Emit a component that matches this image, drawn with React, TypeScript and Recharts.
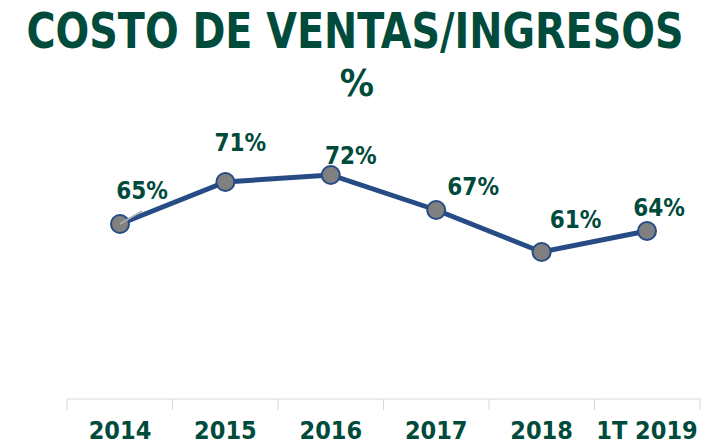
import { LineChart, Line, XAxis, YAxis, LabelList } from "recharts";

const categories = ["2014", "2015", "2016", "2017", "2018", "1T 2019"];
const costRatio = [65, 71, 72, 67, 61, 64];
const boundaryTicks = [0, 1, 2, 3, 4, 5, 6];

// manual label placement, like the original slide
const labelDx = [22, 15, 20, 37, 34, 12];
const labelDy = [-33, -39, -19, -23, -32, -23];

const green = "#004B3B";
const font = "'DejaVu Sans Condensed', 'DejaVu Sans', sans-serif";

const data = categories.map((name, i) => ({ name, value: costRatio[i] }));

function ValueLabel(props: any) {
  const { x, y, index, value } = props;
  const lx = x + labelDx[index];
  const ly = y + labelDy[index];
  return (
    <g>
      {index === 0 && (
        <line x1={x} y1={y} x2={x + 22} y2={y - 13} stroke="#b0b0b0" strokeWidth={1.5} />
      )}
      <text
        x={lx}
        y={ly}
        textAnchor="middle"
        dominantBaseline="central"
        fill={green}
        fontFamily={font}
        fontWeight="bold"
        fontSize={24}
      >
        {value + "%"}
      </text>
    </g>
  );
}

function CatTick(props: any) {
  const { x, y, payload } = props;
  return (
    <text
      x={x}
      y={y + 31}
      textAnchor="middle"
      fill={green}
      fontFamily={font}
      fontWeight="bold"
      fontSize={25}
    >
      {payload.value}
    </text>
  );
}

const NoTick = () => <g />;

export default function App() {
  return (
    <div style={{ position: "absolute", left: 0, top: 0, width: 704, height: 444, background: "#fff" }}>
      <svg width={704} height={120} style={{ position: "absolute", left: 0, top: 0 }}>
        <text
          x={355}
          y={48}
          textAnchor="middle"
          fill={green}
          fontFamily={font}
          fontWeight="bold"
          fontSize={49}
          textLength={657}
          lengthAdjust="spacingAndGlyphs"
        >
          COSTO DE VENTAS/INGRESOS
        </text>
        <text x={357} y={96} textAnchor="middle" fill={green} fontFamily={font} fontWeight="bold" fontSize={38}>
          %
        </text>
      </svg>
      <div style={{ position: "absolute", left: 0, top: 0 }}>
        <LineChart width={704} height={444} data={data} margin={{ top: 119, right: 4, left: 67, bottom: 0 }}>
          <YAxis hide domain={[40, 80]} />
          {/* separator ticks between categories */}
          <XAxis
            xAxisId="bound"
            type="number"
            dataKey="value"
            domain={[0, 6]}
            allowDataOverflow
            ticks={boundaryTicks}
            interval={0}
            tick={<NoTick />}
            tickSize={11}
            height={1}
            axisLine={{ stroke: "#d9d9d9" }}
            tickLine={{ stroke: "#d9d9d9" }}
          />
          <XAxis
            xAxisId="cat"
            dataKey="name"
            interval={0}
            axisLine={false}
            tickLine={false}
            padding={{ left: 53, right: 53 }}
            height={44}
            tick={<CatTick />}
          />
          <Line
            xAxisId="cat"
            dataKey="value"
            stroke="#264B85"
            strokeWidth={5}
            dot={{ r: 9, fill: "#808080", stroke: "#264B85", strokeWidth: 2 }}
            isAnimationActive={false}
          >
            <LabelList dataKey="value" content={<ValueLabel />} />
          </Line>
        </LineChart>
      </div>
    </div>
  );
}
